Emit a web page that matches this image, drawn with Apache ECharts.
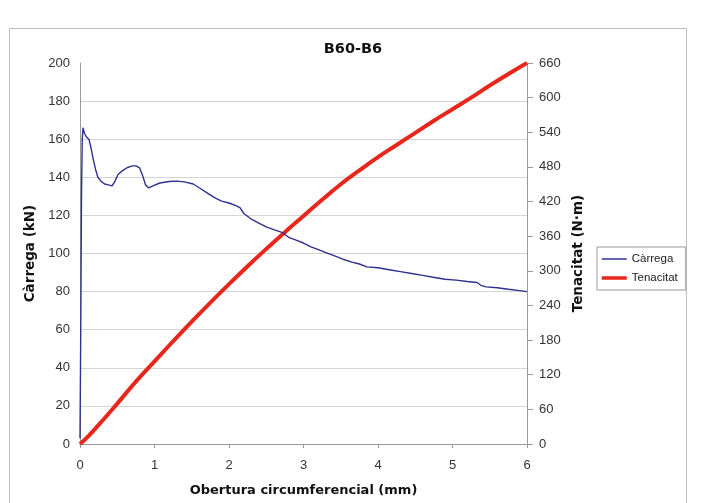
<!DOCTYPE html>
<html>
<head>
<meta charset="utf-8">
<script src="https://cdn.jsdelivr.net/npm/echarts@6/dist/echarts.min.js"></script>
<style>
html,body{margin:0;padding:0;background:#fff;}
#c{width:702px;height:503px;}
</style>
</head>
<body>
<div id="c"></div>
<script>
// x: Obertura circumferencial (mm), y: Càrrega (kN)
const carrega = [
  [0, 3], [0.01, 60], [0.02, 130], [0.03, 160], [0.04, 166], [0.06, 163], [0.09, 161],
  [0.12, 160], [0.15, 155], [0.18, 149], [0.21, 144], [0.24, 140], [0.28, 138],
  [0.33, 136.5], [0.38, 136], [0.43, 135.5], [0.47, 138], [0.51, 141.5], [0.57, 143.5],
  [0.63, 145], [0.7, 146], [0.75, 146], [0.8, 145], [0.84, 141], [0.88, 136],
  [0.92, 134.5], [0.98, 135.5], [1.07, 137], [1.2, 137.8], [1.3, 138], [1.4, 137.6],
  [1.52, 136.5], [1.6, 134.5], [1.7, 132], [1.8, 129.5], [1.9, 127.5], [2.0, 126.5],
  [2.1, 125], [2.15, 124], [2.2, 121], [2.3, 118], [2.4, 116], [2.5, 114],
  [2.6, 112.5], [2.72, 111], [2.8, 108.5], [2.9, 107], [3.0, 105.5], [3.1, 103.5],
  [3.2, 102], [3.3, 100.5], [3.4, 99], [3.53, 97], [3.65, 95.5], [3.75, 94.5],
  [3.85, 93], [4.0, 92.5], [4.15, 91.5], [4.3, 90.5], [4.45, 89.5], [4.6, 88.5],
  [4.74, 87.5], [4.9, 86.5], [5.05, 86], [5.2, 85.3], [5.33, 84.8], [5.38, 83.3],
  [5.45, 82.5], [5.6, 82], [5.75, 81.2], [5.9, 80.5], [6.0, 80]
];
// x: Obertura circumferencial (mm), y: Tenacitat (N·m)
const tenacitat = [
  [0, 0], [0.1, 12], [0.25, 33], [0.5, 70], [0.75, 108], [1.0, 143], [1.25, 178],
  [1.5, 212], [1.75, 245], [2.0, 277], [2.25, 308], [2.5, 338], [2.75, 367],
  [3.0, 395], [3.25, 423], [3.5, 450], [3.75, 474], [4.0, 497], [4.25, 518],
  [4.5, 539], [4.75, 560], [5.0, 580], [5.25, 600], [5.5, 621], [5.75, 641], [6.0, 660]
];
const titleText = 'B60-B6';
const xName = 'Obertura circumferencial (mm)';
const yLeftName = 'Càrrega (kN)';
const yRightName = 'Tenacitat (N·m)';
const seriesNames = ['Càrrega', 'Tenacitat'];

const chart = echarts.init(document.getElementById('c'), null, {renderer: 'canvas'});
const labelStyle = {color: '#333', fontSize: 13, fontFamily: 'Liberation Sans, Arial, sans-serif'};
const nameStyle = {color: '#111', fontSize: 13, fontWeight: 'bold', fontFamily: 'DejaVu Sans, Verdana, sans-serif'};
chart.setOption({
  backgroundColor: '#fff',
  animation: false,
  graphic: [{
    type: 'rect', silent: true, z: -10,
    shape: {x: 9.5, y: 28.5, width: 677, height: 490},
    style: {fill: '#fff', stroke: '#bdbdbd', lineWidth: 1}
  }],
  title: {
    text: titleText, left: 348, top: 37, textAlign: 'center',
    textStyle: {fontSize: 14.5, fontWeight: 'bold', color: '#111', fontFamily: 'DejaVu Sans, Verdana, sans-serif'}
  },
  legend: {
    orient: 'vertical', left: 597, top: 247,
    padding: [6, 8, 6, 3], itemGap: 7, itemWidth: 25, itemHeight: 10,
    borderColor: '#9a9a9a', borderWidth: 1,
    itemStyle: {opacity: 0},
    textStyle: {color: '#222', fontSize: 11.5, fontFamily: 'Liberation Sans, Arial, sans-serif'},
    data: [
      {name: seriesNames[0], lineStyle: {width: 1.5}},
      {name: seriesNames[1], lineStyle: {width: 3.5}}
    ]
  },
  grid: {left: 80, right: 175, top: 63, bottom: 59, containLabel: false},
  xAxis: {
    type: 'value', min: 0, max: 6, interval: 1,
    name: xName, nameLocation: 'middle', nameGap: 40, nameTextStyle: nameStyle,
    axisLine: {show: true, lineStyle: {color: '#9a9a9a', width: 1}},
    axisTick: {show: true, length: 4, lineStyle: {color: '#9a9a9a'}},
    axisLabel: Object.assign({margin: 15}, labelStyle),
    splitLine: {show: false}
  },
  yAxis: [{
    type: 'value', min: 0, max: 200, interval: 20, position: 'left',
    name: yLeftName, nameLocation: 'middle', nameGap: 38,
    nameTextStyle: Object.assign({}, nameStyle, {fontSize: 13.5}),
    axisLine: {show: true, lineStyle: {color: '#9a9a9a', width: 1}},
    axisTick: {show: false},
    axisLabel: Object.assign({margin: 10}, labelStyle),
    splitLine: {show: true, showMinLine: false, showMaxLine: false, lineStyle: {color: '#d4d4d4', width: 1}}
  }, {
    type: 'value', min: 0, max: 660, interval: 60, position: 'right',
    name: yRightName, nameLocation: 'middle', nameGap: 44, nameRotate: 90,
    nameTextStyle: Object.assign({}, nameStyle, {fontSize: 13.5}),
    axisLine: {show: true, lineStyle: {color: '#9a9a9a', width: 1}},
    axisTick: {show: true, length: 6, lineStyle: {color: '#9a9a9a'}},
    axisLabel: Object.assign({margin: 12}, labelStyle),
    splitLine: {show: false}
  }],
  series: [{
    name: seriesNames[0], type: 'line', yAxisIndex: 0, data: carrega,
    symbol: 'none', smooth: false,
    lineStyle: {color: '#2e3190', width: 1.4},
    itemStyle: {color: '#2e3190'}, z: 3
  }, {
    name: seriesNames[1], type: 'line', yAxisIndex: 1, data: tenacitat,
    symbol: 'none', smooth: true,
    lineStyle: {color: '#e8271c', width: 4},
    itemStyle: {color: '#e8271c'}, z: 2
  }]
});
</script>
</body>
</html>
